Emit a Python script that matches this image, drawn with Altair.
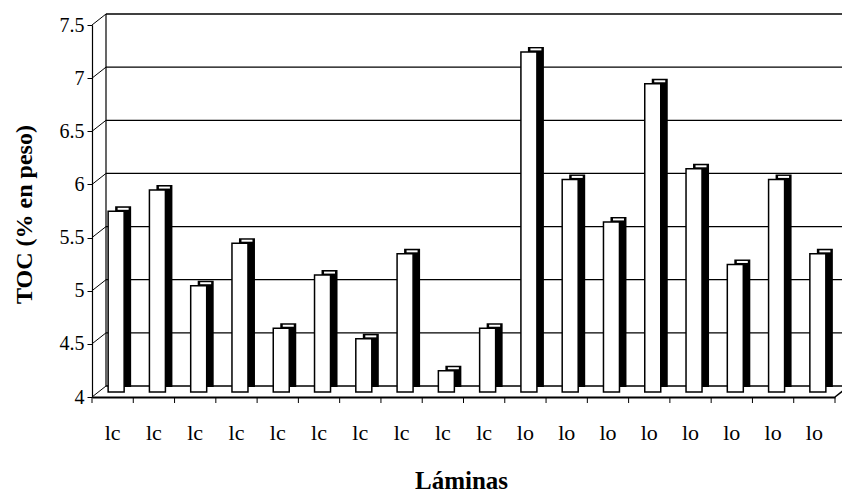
import altair as alt
import pandas as pd

categories = ["lc", "lc", "lc", "lc", "lc", "lc", "lc", "lc", "lc", "lc",
              "lo", "lo", "lo", "lo", "lo", "lo", "lo", "lo"]
toc = [5.7, 5.9, 5.0, 5.4, 4.6, 5.1, 4.5, 5.3, 4.2, 4.6,
       7.2, 6.0, 5.6, 6.9, 6.1, 5.2, 6.0, 5.3]
grid_levels = [4.0, 4.5, 5.0, 5.5, 6.0, 6.5, 7.0, 7.5]
y_min, y_max = 4.0, 7.5

df = pd.DataFrame({"idx": list(range(len(categories))), "cat": categories,
                   "toc": toc, "base": [y_min] * len(categories)})
grid = pd.DataFrame({"v": grid_levels})
edge = pd.DataFrame({"lo": [y_min], "hi": [y_max]})

W, H = 743, 372
DX, DY = 14, -11  # depth of the 3D box (pixels)
BAND = W / len(categories)
FONT = "Liberation Serif"

label_expr = "[" + ",".join("'%s'" % c for c in categories) + "][datum.value]"

yscale = alt.Scale(domain=[y_min, y_max], nice=False, zero=False)
xscale = alt.Scale(paddingInner=0, paddingOuter=0)

y_axis = alt.Axis(values=grid_levels, format=".1~f", grid=False, tickSize=5,
                  tickColor="black", domainColor="black", domainWidth=1.2,
                  labelFont=FONT, labelFontSize=20, labelColor="black", labelPadding=3,
                  title="TOC (% en peso)", titleFont=FONT, titleFontSize=24,
                  titleFontWeight="bold", titleColor="black", titleAngle=-90,
                  titleX=-61, titleY=189, titleAlign="center",
                  titleBaseline="alphabetic")
x_axis = alt.Axis(labelExpr=label_expr, labelAngle=0, ticks=False, tickSize=0,
                  grid=False, domainColor="black", domainWidth=2, labelFont=FONT,
                  labelFontSize=22, labelColor="black", labelPadding=42,
                  labelBaseline="alphabetic",
                  title="Láminas", titleFont=FONT, titleFontSize=25,
                  titleFontWeight="bold", titleColor="black", titleX=369,
                  titleY=91, titleBaseline="alphabetic", titleAlign="center")


def Y(field):
    return alt.Y(field, scale=yscale, axis=y_axis)


def X(field):
    return alt.X(field, scale=xscale, axis=x_axis)


base = alt.Chart(df)
gbase = alt.Chart(grid)
ebase = alt.Chart(edge)

# back wall gridlines
grid_rules = gbase.mark_rule(color="black", strokeWidth=1.3, yOffset=DY).encode(
    y=Y("v:Q"), x=alt.value(DX), x2=alt.value(W + 30))

# left wall diagonals
diag = gbase.mark_rule(color="black", strokeWidth=1, y2Offset=DY).encode(
    y=Y("v:Q"), y2="v:Q", x=alt.value(0), x2=alt.value(DX))

# back wall vertical edge
back_edge = ebase.mark_rule(color="black", strokeWidth=1.2, yOffset=DY, y2Offset=DY).encode(
    x=alt.value(DX), y=Y("hi:Q"), y2="lo:Q")

# right floor diagonal
right_diag = ebase.mark_rule(color="black", strokeWidth=1.5, y2Offset=DY).encode(
    x=alt.value(W), x2=alt.value(W + DX), y=Y("lo:Q"), y2="lo:Q")

# x ticks at category boundaries
xticks = base.mark_rule(color="black", strokeWidth=1, xOffset=-BAND / 2).encode(
    x=X("idx:O"), y=alt.value(H), y2=alt.value(H + 6))
last_tick = ebase.mark_rule(color="black").encode(
    x=alt.value(W), y=alt.value(H), y2=alt.value(H + 6))

# dark side / back of each column
side = base.mark_bar(width=16, color="black", xOffset=10.5, yOffset=-10, y2Offset=-10).encode(
    x=X("idx:O"), y=Y("toc:Q"), y2="base:Q")

# top face highlight
top = base.mark_tick(size=11, thickness=2, color="white", opacity=1,
                     xOffset=10.5, yOffset=-7.5).encode(
    x=X("idx:O"), y=Y("toc:Q"))

# front face
front = base.mark_bar(width=16, fill="white", stroke="black", strokeWidth=1.5,
                      xOffset=3.5, yOffset=-5, y2Offset=-5).encode(
    x=X("idx:O"), y=Y("toc:Q"), y2="base:Q")

chart = alt.layer(grid_rules, diag, back_edge, right_diag, xticks, last_tick,
                  side, top, front).properties(
    width=W, height=H, autosize="none",
    padding={"left": 92, "top": 25, "right": 7, "bottom": 99},
    background="white",
).configure_view(stroke=None)

chart.save("out.html", embed_options={"renderer": "svg", "actions": False})
